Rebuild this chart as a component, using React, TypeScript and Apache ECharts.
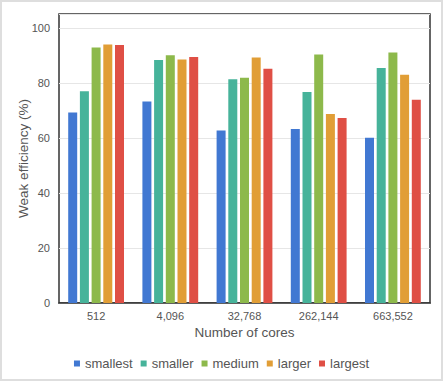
import React, { useEffect, useRef } from "react";
import * as echarts from "echarts";

const categories = ["512", "4,096", "32,768", "262,144", "663,552"];
const seriesNames = ["smallest", "smaller", "medium", "larger", "largest"];
const smallest = [69.2, 73.2, 62.7, 63.2, 60.0];
const smaller = [76.9, 88.3, 81.3, 76.7, 85.4];
const medium = [92.8, 90.0, 81.8, 90.3, 91.0];
const larger = [93.9, 88.5, 89.2, 68.7, 82.9];
const largest = [93.7, 89.4, 85.1, 67.2, 73.8];
const seriesValues = [smallest, smaller, medium, larger, largest];
const colors = ["#4178d2", "#46b39a", "#8db94b", "#e19e36", "#df4f45"];

const FONT = "Arial, 'Liberation Sans', sans-serif";

export default function App() {
  const ref = useRef<HTMLDivElement>(null);
  useEffect(() => {
    if (!ref.current) return;
    const chart = echarts.init(ref.current, undefined, { renderer: "svg" });
    chart.setOption({
      animation: false,
      backgroundColor: "#ffffff",
      textStyle: { fontFamily: FONT },
      graphic: [
        {
          type: "rect",
          shape: { x: 1, y: 1, width: 441, height: 379 },
          style: { fill: "none", stroke: "#dedede", lineWidth: 2 },
          silent: true,
        },
      ],
      grid: {
        left: 59,
        top: 14,
        right: 13,
        bottom: 78,
        show: true,
        borderColor: "#333",
        borderWidth: 1.5,
        containLabel: false,
      },
      legend: {
        bottom: 6,
        left: "center",
        icon: "rect",
        itemWidth: 6,
        itemHeight: 6,
        itemGap: 8,
        textStyle: { fontSize: 13, color: "#555", fontFamily: FONT },
        data: seriesNames,
      },
      xAxis: {
        type: "category",
        data: categories,
        name: "Number of cores",
        nameLocation: "middle",
        nameGap: 22,
        nameMoveOverlap: false,
        nameTextStyle: { fontSize: 13.5, color: "#555", fontFamily: FONT },
        axisLine: { show: true, lineStyle: { color: "#333", width: 1.5 } },
        axisTick: { show: false },
        axisLabel: { fontSize: 11, color: "#555", margin: 7, fontFamily: FONT },
      },
      yAxis: {
        type: "value",
        min: 0,
        max: 105,
        interval: 20,
        name: "Weak efficiency (%)",
        nameLocation: "middle",
        nameGap: 29,
        nameMoveOverlap: false,
        nameRotate: 90,
        nameTextStyle: { fontSize: 13.5, color: "#555", fontFamily: FONT },
        axisLine: { show: false },
        axisTick: { show: false },
        axisLabel: {
          fontSize: 11,
          color: "#555",
          margin: 9,
          showMaxLabel: false,
          fontFamily: FONT,
        },
        splitLine: { show: true, lineStyle: { color: "#e6e6e6", width: 1 } },
      },
      series: seriesNames.map((name, i) => ({
        name,
        type: "bar",
        data: seriesValues[i],
        barWidth: 9,
        barGap: "30%",
        itemStyle: { color: colors[i] },
      })),
    });
    return () => chart.dispose();
  }, []);
  return (
    <div
      ref={ref}
      style={{ position: "absolute", left: 0, top: 0, width: 443, height: 381 }}
    />
  );
}
